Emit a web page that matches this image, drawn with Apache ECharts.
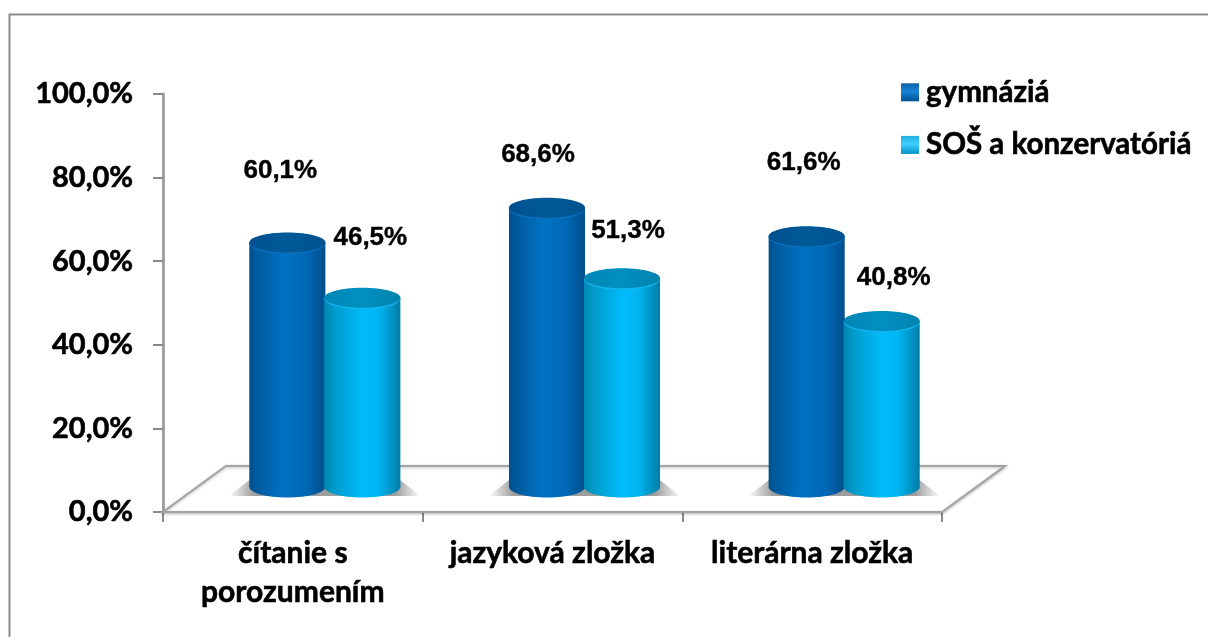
<!DOCTYPE html>
<html>
<head>
<meta charset="utf-8">
<style>html,body{margin:0;padding:0;background:#fff}#c{width:1208px;height:637px}</style>
<script src="https://cdn.jsdelivr.net/npm/echarts@6/dist/echarts.min.js"></script>
</head>
<body>
<div id="c"></div>
<script>
const categories = ['čítanie s\nporozumením', 'jazyková zložka', 'literárna zložka'];
const seriesNames = ['gymnáziá', 'SOŠ a konzervatóriá'];
const gymnazia = [60.1, 68.6, 61.6];
const sos = [46.5, 51.3, 40.8];
const yTicks = { min: 0, max: 100, step: 20 };

// Styling and layout (not data)
const labelNudge = [
  [[-7, -72], [-9, -53], [-3, -73]],
  [[8, -60], [6, -47], [12, -43]]
];
const floorDepth = [63, -46];
const barDepth = [32, -25];
const axisGray = '#a3a3a3';
const labelFont = 'bold 26px "Liberation Sans", Arial, sans-serif';
const axisFont = 'Lato';
const boldInk = { textBorderColor: '#000', textBorderWidth: 0.6 };

function lin(stops) {
  return { type: 'linear', x: 0, y: 0, x2: 1, y2: 0,
    colorStops: stops.map(s => ({ offset: s[0], color: s[1] })) };
}
const palettes = [
  { side: lin([[0, '#00508f'], [0.12, '#005c9f'], [0.45, '#0072c4'], [0.75, '#0068b4'], [1, '#004f8c']]),
    top: lin([[0, '#00508f'], [0.5, '#005a98'], [1, '#00528f']]),
    rim: '#0a6fbd',
    legend: { type: 'linear', x: 0, y: 0, x2: 0, y2: 1, colorStops: [{ offset: 0, color: '#0a62a8' }, { offset: 0.45, color: '#1a83d6' }, { offset: 1, color: '#00508f' }] } },
  { side: lin([[0, '#0088b2'], [0.15, '#009ccc'], [0.5, '#00bcfb'], [0.72, '#00b4f0'], [1, '#007da6']]),
    top: lin([[0, '#0086b4'], [0.5, '#0090c0'], [1, '#0082ae']]),
    rim: '#12b6ee',
    legend: { type: 'linear', x: 0, y: 0, x2: 0, y2: 1, colorStops: [{ offset: 0, color: '#20b0e0' }, { offset: 0.45, color: '#40d0ff' }, { offset: 1, color: '#0090c4' }] } }
];

function barSeries(idx, values) {
  const pal = palettes[idx];
  return {
    name: seriesNames[idx],
    type: 'custom',
    yAxisIndex: 1,
    z: 5 + idx,
    itemStyle: { color: pal.legend },
    encode: { x: 0, y: 1 },
    data: values.map((v, i) => [i, v]),
    clip: false,
    renderItem(params, api) {
      const cat = api.value(0), val = api.value(1);
      const band = api.size([1, 0])[0];
      const rx = band * 0.1465, ry = 10.5;
      const shift = band * 0.1444 * (idx === 0 ? -1 : 1);
      const base = api.coord([cat, 0]);
      const top = api.coord([cat, val]);
      const cx = base[0] + barDepth[0] + shift;
      const by = base[1] + barDepth[1];
      const ty = top[1] + barDepth[1];
      const n = labelNudge[idx][cat];
      return { type: 'group', children: [
        { type: 'ellipse', shape: { cx, cy: by, rx, ry }, style: { fill: pal.side } },
        { type: 'rect', shape: { x: cx - rx, y: ty, width: 2 * rx, height: by - ty }, style: { fill: pal.side } },
        { type: 'ellipse', shape: { cx, cy: ty + 1, rx, ry }, style: { fill: pal.rim } },
        { type: 'ellipse', shape: { cx, cy: ty, rx, ry: ry - 0.5 }, style: { fill: pal.top } },
        { type: 'text', z2: 50, style: {
            text: val.toFixed(1).replace('.', ',') + '%',
            x: cx + n[0], y: ty + n[1], align: 'center', verticalAlign: 'middle',
            font: labelFont, fill: '#000', stroke: '#000', lineWidth: 0.4 } }
      ] };
    }
  };
}

const floorSeries = {
  type: 'custom',
  name: 'floor',
  z: 1,
  silent: true,
  clip: false,
  encode: { x: 0, y: 1 },
  yAxisIndex: 1,
  data: [[0, 0]],
  renderItem(params) {
    const g = params.coordSys;
    const x0 = g.x, x1 = g.x + g.width, y = g.y + g.height;
    return { type: 'polygon',
      shape: { points: [[x0, y], [x1, y], [x1 + floorDepth[0], y + floorDepth[1]], [x0 + floorDepth[0], y + floorDepth[1]]] },
      style: { fill: '#fff', stroke: axisGray, lineWidth: 2, shadowBlur: 3, shadowColor: 'rgba(0,0,0,0.25)', shadowOffsetY: 1 } };
  }
};

const shadowSeries = {
  type: 'custom',
  name: 'shadow',
  z: 2,
  silent: true,
  clip: false,
  encode: { x: 0, y: 1 },
  yAxisIndex: 1,
  data: categories.map((c, i) => [i, 0]),
  renderItem(params, api) {
    const p = api.coord([api.value(0), 0]);
    const cx = p[0] + barDepth[0], by = p[1] + barDepth[1];
    const fade = 'rgba(140,140,140,0)', gray = 'rgba(140,140,140,0.85)';
    return { type: 'polygon',
      shape: { points: [[cx - 96, by + 9], [cx - 74, by - 8], [cx + 74, by - 8], [cx + 96, by + 9]] },
      style: { fill: lin([[0, fade], [0.13, gray], [0.87, gray], [1, fade]]) } };
  }
};

const chart = echarts.init(document.getElementById('c'), null, { renderer: 'canvas' });
chart.setOption({
  animation: false,
  backgroundColor: '#fff',
  graphic: [{
    type: 'polyline', silent: true, z: 0,
    shape: { points: [[9.5, 637], [9.5, 14.5], [1208, 14.5]] },
    style: { fill: null, stroke: '#8c8c8c', lineWidth: 2 }
  }],
  grid: { left: 163, top: 94, width: 779, height: 418, containLabel: false },
  legend: {
    orient: 'vertical', left: 896, top: 72, itemWidth: 18, itemHeight: 18, itemGap: 22, icon: 'rect',
    data: seriesNames,
    textStyle: { fontFamily: axisFont, fontWeight: 'bold', fontSize: 29.5, color: '#000', padding: [0, 0, 0, 2], ...boldInk },
    selectedMode: false
  },
  xAxis: {
    type: 'category',
    data: categories,
    boundaryGap: true,
    axisLine: { show: false },
    axisTick: { show: true, alignWithLabel: false, length: 10, lineStyle: { color: '#8a8a8a', width: 2 } },
    axisLabel: { fontFamily: axisFont, fontWeight: 'bold', fontSize: 30, color: '#000', lineHeight: 39, margin: 22, interval: 0, ...boldInk },
    splitLine: { show: false }
  },
  yAxis: [{
    type: 'value', min: yTicks.min, max: yTicks.max, interval: yTicks.step,
    axisLine: { show: true, lineStyle: { color: axisGray, width: 3 } },
    axisTick: { show: true, length: 10, lineStyle: { color: '#8a8a8a', width: 2 } },
    axisLabel: { fontFamily: axisFont, fontWeight: 'bold', fontSize: 29, color: '#000', margin: 30, padding: [6, 0, 0, 0], ...boldInk,
      formatter: v => v.toFixed(1).replace('.', ',') + '%' },
    splitLine: { show: false }
  }, {
    type: 'value', min: 0, max: 102.7, show: false, splitLine: { show: false }
  }],
  series: [floorSeries, shadowSeries, barSeries(0, gymnazia), barSeries(1, sos)]
});
</script>
</body>
</html>
